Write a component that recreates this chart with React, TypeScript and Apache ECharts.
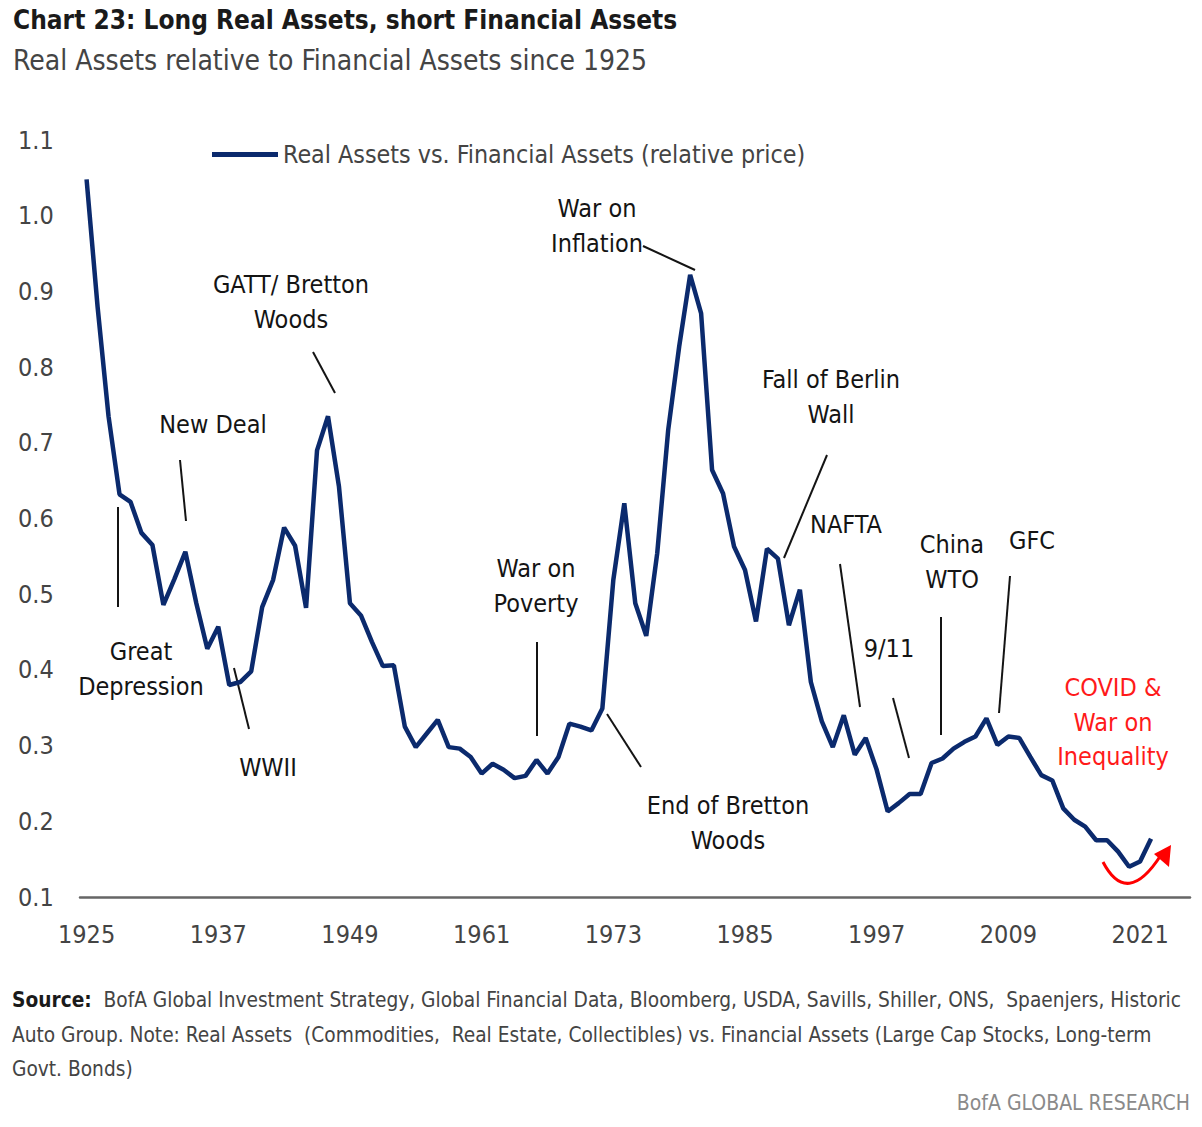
import React, { useEffect, useRef } from "react";
import * as echarts from "echarts";

const startYear = 1925;
const relativePrice = [
  1.048, 0.88, 0.735, 0.632, 0.622, 0.581, 0.565, 0.486, 0.52, 0.556,
  0.488, 0.428, 0.457, 0.38, 0.384, 0.398, 0.483, 0.519, 0.588, 0.564,
  0.482, 0.69, 0.735, 0.642, 0.488, 0.472, 0.437, 0.405, 0.406, 0.325,
  0.298, 0.316, 0.334, 0.298, 0.296, 0.285, 0.263, 0.276, 0.268, 0.257,
  0.26, 0.281, 0.263, 0.285, 0.329, 0.325, 0.32, 0.349, 0.519, 0.62,
  0.488, 0.445, 0.554, 0.717, 0.827, 0.922, 0.871, 0.664, 0.633, 0.563,
  0.532, 0.464, 0.56, 0.547, 0.459, 0.506, 0.384, 0.332, 0.298, 0.34,
  0.288, 0.31, 0.268, 0.213, 0.224, 0.236, 0.236, 0.277, 0.283, 0.296,
  0.305, 0.312, 0.336, 0.301, 0.312, 0.31, 0.285, 0.261, 0.254, 0.217,
  0.202, 0.193, 0.175, 0.175, 0.16, 0.14, 0.147, 0.177,
];
const years = relativePrice.map((_, i) => startYear + i);
const xTickYears = [1925, 1937, 1949, 1961, 1973, 1985, 1997, 2009, 2021];
const seriesName = "Real Assets vs. Financial Assets (relative price)";
const titleText = "Chart 23: Long Real Assets, short Financial Assets";
const subtitleText = "Real Assets relative to Financial Assets since 1925";
const footLines = [
  "BofA Global Investment Strategy, Global Financial Data, Bloomberg, USDA, Savills, Shiller, ONS,  Spaenjers, Historic",
  "Auto Group. Note: Real Assets  (Commodities,  Real Estate, Collectibles) vs. Financial Assets (Large Cap Stocks, Long-term",
  "Govt. Bonds)",
];
const brand = "BofA GLOBAL RESEARCH";

const FONT = '"DejaVu Sans Condensed", "Liberation Sans Narrow", Roboto, sans-serif';
const NAVY = "#0b2a6d";

type Note = { text: string; x: number; y: number; color?: string; line?: number[] };
const notes: Note[] = [
  { text: "Great\nDepression", x: 141, y: 669, line: [118, 507, 118, 607] },
  { text: "New Deal", x: 213, y: 424, line: [180, 460, 186, 521] },
  { text: "WWII", x: 268, y: 767, line: [234, 668, 249, 729] },
  { text: "GATT/ Bretton\nWoods", x: 291, y: 302, line: [313, 352, 335, 393] },
  { text: "War on\nPoverty", x: 536, y: 586, line: [537, 642, 537, 736] },
  { text: "End of Bretton\nWoods", x: 728, y: 823, line: [607, 714, 641, 767] },
  { text: "War on\nInflation", x: 597, y: 226, line: [643, 246, 695, 270] },
  { text: "Fall of Berlin\nWall", x: 831, y: 397, line: [827, 455, 784, 558] },
  { text: "NAFTA", x: 846, y: 524, line: [840, 564, 860, 707] },
  { text: "9/11", x: 889, y: 648, line: [893, 698, 909, 758] },
  { text: "China\nWTO", x: 952, y: 562, line: [941, 617, 941, 735] },
  { text: "GFC", x: 1032, y: 540, line: [1010, 576, 999, 713] },
  { text: "COVID &\nWar on\nInequality", x: 1113, y: 722, color: "#ff1a1a" },
];

export default function App() {
  const ref = useRef<HTMLDivElement>(null);
  useEffect(() => {
    document.body.style.margin = "0";
    const chart = echarts.init(ref.current!, undefined, { renderer: "svg" });
    const graphics: any[] = [];
    notes.forEach((n) => {
      graphics.push({
        type: "text",
        style: {
          text: n.text,
          x: n.x,
          y: n.y,
          align: "center",
          verticalAlign: "middle",
          fontSize: 25,
          lineHeight: 34.5,
          fontFamily: FONT,
          fill: n.color || "#141414",
        },
      });
      if (n.line) {
        graphics.push({
          type: "line",
          shape: { x1: n.line[0], y1: n.line[1], x2: n.line[2], y2: n.line[3] },
          style: { stroke: "#141414", lineWidth: 2 },
        });
      }
    });
    graphics.push({
      type: "bezierCurve",
      shape: { x1: 1103, y1: 862, cpx1: 1127, cpy1: 908, x2: 1161, y2: 855 },
      style: { stroke: "#ff0000", lineWidth: 3, fill: null },
    });
    graphics.push({
      type: "polygon",
      shape: { points: [[1171, 845], [1154, 854], [1169, 867]] },
      style: { fill: "#ff0000" },
    });
    graphics.push({
      type: "text",
      style: {
        text: "{b|Source:}  " + footLines[0],
        x: 12,
        y: 1000,
        verticalAlign: "middle",
        fontSize: 20.7,
        fontFamily: FONT,
        fill: "#444",
        rich: { b: { fontWeight: "bold", fontSize: 20.7, fontFamily: FONT, fill: "#1a1a1a" } },
      },
    });
    graphics.push({
      type: "text",
      style: { text: footLines[1], x: 12, y: 1035, verticalAlign: "middle", fontSize: 20.7, fontFamily: FONT, fill: "#444" },
    });
    graphics.push({
      type: "text",
      style: { text: footLines[2], x: 12, y: 1069, verticalAlign: "middle", fontSize: 20.7, fontFamily: FONT, fill: "#444" },
    });
    graphics.push({
      type: "text",
      style: { text: brand, x: 1190, y: 1103, align: "right", verticalAlign: "middle", fontSize: 21, fontFamily: FONT, fill: "#8a8a8a" },
    });

    chart.setOption({
      animation: false,
      title: {
        text: titleText,
        subtext: subtitleText,
        left: 8,
        top: 2,
        itemGap: 13,
        textStyle: { fontSize: 26, fontWeight: "bold", fontFamily: FONT, color: "#1a1a1a" },
        subtextStyle: { fontSize: 28, fontFamily: FONT, color: "#444" },
      },
      legend: {
        left: 212,
        top: 142,
        padding: 0,
        icon: "rect",
        itemWidth: 66,
        itemHeight: 5,
        textStyle: { fontSize: 24.8, fontFamily: FONT, color: "#444" },
        data: [seriesName],
      },
      grid: { left: 80, right: 12, top: 140, bottom: 230 },
      xAxis: {
        type: "value",
        min: 1924.4,
        max: 2025.55,
        axisLine: { show: true, lineStyle: { color: "#666", width: 2.5 } },
        axisTick: { show: false },
        splitLine: { show: false },
        axisLabel: {
          fontSize: 25,
          fontFamily: FONT,
          color: "#444",
          margin: 25,
          customValues: xTickYears,
          formatter: (v: number) => String(Math.round(v)),
        },
      },
      yAxis: {
        type: "value",
        min: 0.1,
        max: 1.1,
        interval: 0.1,
        axisLine: { show: false },
        axisTick: { show: false },
        splitLine: { show: false },
        axisLabel: {
          fontSize: 25,
          fontFamily: FONT,
          color: "#444",
          align: "left",
          margin: 62,
          formatter: (v: number) => v.toFixed(1),
        },
      },
      series: [
        {
          name: seriesName,
          type: "line",
          data: years.map((y, i) => [y, relativePrice[i]]),
          showSymbol: false,
          symbol: "none",
          lineStyle: { color: NAVY, width: 4.5 },
          itemStyle: { color: NAVY },
        },
      ],
      graphic: graphics,
    });
    return () => chart.dispose();
  }, []);
  return <div ref={ref} style={{ width: 1202, height: 1127 }} />;
}
